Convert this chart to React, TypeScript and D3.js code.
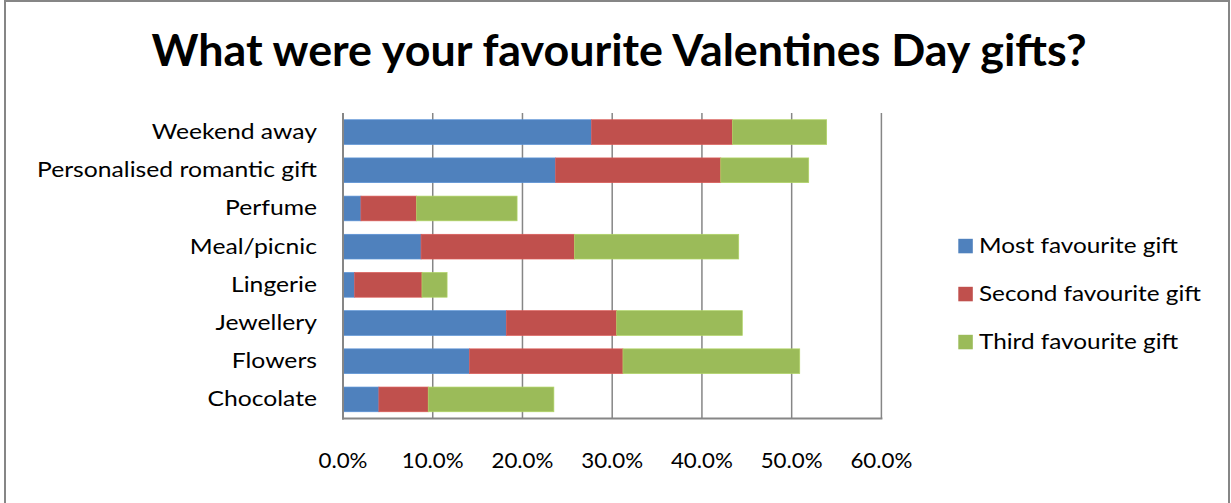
import React, { useEffect, useRef } from "react";
import * as d3 from "d3";

const categories = [
  "Weekend away",
  "Personalised romantic gift",
  "Perfume",
  "Meal/picnic",
  "Lingerie",
  "Jewellery",
  "Flowers",
  "Chocolate",
];
const seriesNames = ["Most favourite gift", "Second favourite gift", "Third favourite gift"];
const mostFavourite = [27.7, 23.7, 2.0, 8.7, 1.3, 18.2, 14.1, 4.0];
const secondFavourite = [15.7, 18.4, 6.2, 17.1, 7.5, 12.3, 17.1, 5.5];
const thirdFavourite = [10.5, 9.8, 11.2, 18.3, 2.8, 14.0, 19.7, 14.0];
const tickValues = [0, 10, 20, 30, 40, 50, 60];
const title = "What were your favourite Valentines Day gifts?";

const W = 1231;
const H = 503;
const colors = ["#4F81BD", "#C0504D", "#9BBB59"];
const FONT = "Lato, 'Open Sans', sans-serif";

export default function App() {
  const ref = useRef<SVGSVGElement | null>(null);

  useEffect(() => {
    const svg = d3.select(ref.current);
    svg.selectAll("*").remove();

    const x = d3.scaleLinear().domain([0, 60]).range([343, 881.4]);
    const y = d3
      .scaleBand<string>()
      .domain(categories)
      .range([113, 418.5])
      .paddingInner(0.353)
      .paddingOuter(0.1765);

    // outer frame
    svg
      .append("rect")
      .attr("x", 5)
      .attr("y", 1)
      .attr("width", 1224)
      .attr("height", 560)
      .attr("fill", "#fff")
      .attr("stroke", "#868686")
      .attr("stroke-width", 2);

    // title
    svg
      .append("text")
      .attr("x", 151.5)
      .attr("y", 66)
      .attr("font-family", FONT)
      .attr("font-weight", 700)
      .attr("font-size", 43)
      .attr("fill", "#000")
      .attr("textLength", 935)
      .attr("lengthAdjust", "spacingAndGlyphs")
      .text(title);

    // gridlines
    svg
      .append("g")
      .selectAll("line")
      .data(tickValues.filter((v) => v > 0))
      .join("line")
      .attr("x1", (d) => x(d))
      .attr("x2", (d) => x(d))
      .attr("y1", 113)
      .attr("y2", 418.5)
      .attr("stroke", "#868686")
      .attr("stroke-width", 1.5);

    // stacked bars
    const rows = categories.map((c, i) => ({
      cat: c,
      v0: mostFavourite[i],
      v1: secondFavourite[i],
      v2: thirdFavourite[i],
    }));
    const stack = d3.stack<any>().keys(["v0", "v1", "v2"]);
    const stacked = stack(rows);
    stacked.forEach((layer, si) => {
      svg
        .append("g")
        .selectAll("rect")
        .data(layer)
        .join("rect")
        .attr("x", (d) => x(d[0]))
        .attr("y", (d) => y(d.data.cat)!)
        .attr("width", (d) => x(d[1]) - x(d[0]))
        .attr("height", y.bandwidth())
        .attr("fill", colors[si])
        .attr("stroke", d3.color(colors[si])!.brighter(0.35).formatHex())
        .attr("stroke-width", 0.7);
    });

    // axes lines
    svg
      .append("line")
      .attr("x1", 343)
      .attr("x2", 343)
      .attr("y1", 113)
      .attr("y2", 419.5)
      .attr("stroke", "#868686")
      .attr("stroke-width", 2);
    svg
      .append("line")
      .attr("x1", 342)
      .attr("x2", x(60) + 1)
      .attr("y1", 418.5)
      .attr("y2", 418.5)
      .attr("stroke", "#868686")
      .attr("stroke-width", 2);

    // category labels
    const catLabels = svg
      .append("g")
      .selectAll("text")
      .data(categories)
      .join("text")
      .attr("x", 317)
      .attr("y", (d) => y(d)! + y.bandwidth() / 2 + 7)
      .attr("text-anchor", "end")
      .attr("font-family", FONT)
      .attr("font-size", 20.5)
      .attr("fill", "#000")
      .text((d) => d);

    // tick labels
    const tickLabels = svg
      .append("g")
      .selectAll("text")
      .data(tickValues)
      .join("text")
      .attr("x", (d) => x(d))
      .attr("y", 467.5)
      .attr("text-anchor", "middle")
      .attr("font-family", FONT)
      .attr("font-size", 20.5)
      .attr("fill", "#000")
      .text((d) => d3.format(".1f")(d) + "%");

    // legend
    const lg = svg
      .append("g")
      .selectAll("g")
      .data(seriesNames)
      .join("g")
      .attr("transform", (_, i) => `translate(958.3, ${246 + i * 48})`);
    lg.append("rect")
      .attr("x", 0)
      .attr("y", -7.2)
      .attr("width", 14.5)
      .attr("height", 14.5)
      .attr("fill", (_, i) => colors[i]);
    const legendLabels = lg
      .append("text")
      .attr("x", 20.7)
      .attr("y", 7)
      .attr("font-family", FONT)
      .attr("font-size", 20.5)
      .attr("fill", "#000")
      .text((d) => d);

    // horizontal stretch to match the reference's wide letterforms
    const fit = (sel: any, refText: string, target: number) => {
      let k = 1;
      sel.each(function (this: SVGTextElement) {
        if (this.textContent === refText) k = target / this.getComputedTextLength();
      });
      sel.each(function (this: SVGTextElement) {
        const w = this.getComputedTextLength();
        d3.select(this).attr("textLength", w * k).attr("lengthAdjust", "spacingAndGlyphs");
      });
    };
    fit(catLabels, "Personalised romantic gift", 280);
    fit(tickLabels, "10.0%", 62);
    fit(legendLabels, "Second favourite gift", 222);
  }, []);

  return (
    <svg
      ref={ref}
      width={W}
      height={H}
      style={{ position: "absolute", left: 0, top: 0, background: "#fff" }}
    />
  );
}
